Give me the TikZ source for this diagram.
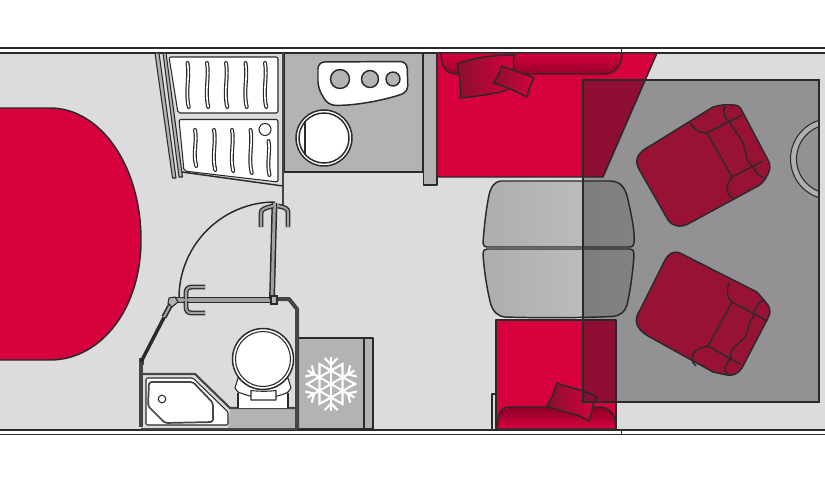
\documentclass[tikz,border=0pt]{standalone}
\definecolor{floorc}{HTML}{DCDCDC}
\definecolor{unit}{HTML}{B3B3B3}
\definecolor{redc}{HTML}{D6003D}
\definecolor{redd}{HTML}{8A1030}
\definecolor{chair}{HTML}{981236}
\definecolor{ink}{HTML}{2B2A2B}
\definecolor{wall}{HTML}{454547}
\definecolor{tint}{HTML}{232328}
\tikzset{
  ln/.style={draw=ink,line width=1.1pt,line join=round},
  thin ln/.style={draw=ink,line width=.8pt,line join=round},
  unitbox/.style={ln,fill=unit},
  whitebox/.style={ln,fill=white},
  wallbar/.style={draw=wall,line width=3pt,line join=round},
  pillow/.style={ln,left color=redd,right color=redc},
  chairbody/.style={ln,fill=chair},
  groove/.style={draw=ink,line width=3pt,line cap=round},
  groovein/.style={draw=white,line width=1.2pt,line cap=round},
  rodo/.style={draw=ink,line width=3.6pt,line join=round},
  rodi/.style={draw=unit!90!black,line width=1.6pt,line join=round},
  flake/.style={draw=white,line width=1.6pt,line cap=butt,line join=miter},
}
\newcommand{\wavy}[4]{% x, ytop, ybottom, amp
  \foreach \st in {groove,groovein}{
    \draw[\st] (#1,#2) .. controls ({#1+#4},{#2+(#3-#2)*.3}) and ({#1-#4},{#2+(#3-#2)*.65}) .. ({#1+#4*.5},#3);
  }}
\begin{document}
\begin{tikzpicture}[x=0.75pt,y=-0.75pt]
\useasboundingbox (0,0) rectangle (825,483);
\fill[white] (0,0) rectangle (825,483);
% floor
\fill[floorc] (0,53) rectangle (825,430);
% outer walls
\draw[ln] (0,48) -- (825,48);
\draw[ln] (0,53) -- (825,53);
\draw[ln] (0,430) -- (825,430);
\draw[ln] (0,434.5) -- (825,434.5);
\draw[thin ln] (621.5,48) -- (621.5,53);
\draw[thin ln] (621.5,430) -- (621.5,434.5);
% rear bed
\path[ln,fill=redc] (-3,108) -- (50,108) .. controls (100,108) and (141,165) .. (141,240)
  .. controls (141,310) and (100,360) .. (50,360) -- (-3,360) -- cycle;
% wardrobe
\draw[thin ln,fill=unit] (155,53) -- (159,53) -- (176,178) -- (172.5,178) -- cycle;
\draw[thin ln,fill=unit] (163,53) -- (166,53) -- (182.5,177) -- (179,177) -- cycle;
\path[thin ln,fill=white,rounded corners=1.5pt] (169,57) -- (278,57) -- (278,113) -- (178,113) -- cycle;
\path[thin ln,fill=white,rounded corners=1.5pt] (179,119.5) -- (278,119.5) -- (278,182) -- (184,171) -- cycle;
\draw[ln] (182,172) -- (283,186);
\foreach \x in {187.5,207,226,245.5,265}{\wavy{\x}{63}{107}{2.5}}
\foreach \x/\b in {195/166,214/170,232/171,250.5/173}{\wavy{\x}{130}{\b}{2.5}}
\wavy{268.5}{141}{175}{2}
\draw[thin ln,fill=white] (265,129.5) circle [radius=6];
% kitchen
\path[ln,fill=unit] (284,53) -- (423,53) -- (423,172) -- (284,172) -- cycle;
\path[ln,fill=white,rounded corners=5pt] (318,62) -- (407,61.5) -- (408,92) .. controls (385,100) and (355,106) .. (328,105) -- (318,88) -- cycle;
\draw[ln,fill=unit] (340,79) circle [radius=9.5];
\draw[ln,fill=unit] (370,79) circle [radius=8.5];
\draw[ln,fill=unit] (393,79) circle [radius=7];
\draw[ln,fill=white] (324,138) circle [radius=28];
\draw[ln] (324,138) circle [radius=25];
\draw[ln] (305,121) -- (305,155);
\draw[draw=wall,line width=2.2pt] (283,53) -- (283,205);
\path[ln,fill=unit] (423.5,53) rectangle (437,185);
% front seat (top)
\path[ln,fill=redc] (437,53) -- (657,53) -- (603,177) -- (437,177) -- cycle;
\path[ln,top color=redc,bottom color=redc!70!black] (441,53) .. controls (441,66) and (445,74) .. (458,74)
  -- (603,74) .. controls (615,74) and (622,66) .. (622,53) -- cycle;
\path[pillow] (457,64) .. controls (475,57) and (495,55) .. (515,55) .. controls (512,60) and (514,64) .. (514,67)
  -- (507,90) .. controls (495,94) and (478,96) .. (460,98) .. controls (462,85) and (459,75) .. (457,64) -- cycle;
\path[pillow] (502,66) .. controls (512,70) and (525,74) .. (534,78) .. controls (530,85) and (529,90) .. (527,97)
  .. controls (517,92) and (505,86) .. (493,83) .. controls (497,78) and (500,72) .. (502,66) -- cycle;
% front seat (bottom)
\draw[thin ln] (492,429) -- (492,394) -- (497,394);
\path[ln,fill=redc] (496,320) rectangle (616,429);
\path[ln,top color=redc!65!black,bottom color=redc] (497,429) .. controls (497,415) and (500,407) .. (510,407)
  -- (600,407) .. controls (612,407) and (616,418) .. (616,429) -- cycle;
\path[pillow] (557,383) .. controls (570,388) and (585,390) .. (597,397) .. controls (592,405) and (592,413) .. (589,421)
  .. controls (575,412) and (560,412) .. (547,406) .. controls (552,398) and (555,390) .. (557,383) -- cycle;
% table
\path[ln,left color=unit!97!black,right color=unit!80!white] (500,181) -- (610,181) .. controls (622,181) and (626,190) .. (628,200)
  .. controls (632,218) and (635,232) .. (634,243) .. controls (634,246) and (632,247) .. (630,247) -- (487,247)
  .. controls (485,247) and (483,246) .. (483,243) .. controls (484,228) and (486,210) .. (489,195) .. controls (491,186) and (495,182) .. (500,181) -- cycle;
\path[ln,left color=unit!97!black,right color=unit!80!white] (487,249) -- (630,249) .. controls (633,249) and (634,251) .. (634,254)
  .. controls (633,272) and (630,292) .. (627,305) .. controls (625,312) and (620,316) .. (612,316.5)
  .. controls (575,318) and (540,318) .. (505,317) .. controls (497,316) and (493,311) .. (491,305)
  .. controls (487,290) and (484,270) .. (483,254) .. controls (483,251) and (484,249) .. (487,249) -- cycle;
% washroom
\fill[unit] (230,408) -- (296,408) -- (296,429) -- (228,429) -- cycle;
\draw[draw=wall,line width=1.6pt,line join=round] (142,374) -- (195,374) -- (230,408) -- (296,408);
\path[thin ln,fill=white,rounded corners=1pt] (146,378) -- (193,378) -- (228,412) -- (228,425) -- (146,425) -- cycle;
\path[draw=wall,line width=1.3pt,line join=round,rounded corners=2pt] (149,382) -- (193,382) -- (213,403) -- (213,422) -- (165,423) -- (148,406) -- cycle;
\draw[thin ln] (162,399) circle [radius=3.8];
% toilet
\path[fill=white] (238,390) rectangle (288,408);
\draw[thin ln] (238,393) -- (238,408) (288,393) -- (288,408);
\path[thin ln,fill=white] (238,378) -- (235,388) -- (238,392) .. controls (243,394) and (246,395) .. (250,396) .. controls (262,399) and (276,398) .. (277,396) .. controls (281,395) and (285,394) .. (288,392) -- (291,388) -- (288,378) -- cycle;
\path[thin ln,fill=white] (251,390.5) -- (251,400) -- (276,400) -- (276,390.5) .. controls (268,391.5) and (260,391.5) .. (251,390.5) -- cycle;
\draw[ln,fill=white] (263,359) circle [radius=30.5];
\draw[thin ln] (263,359) circle [radius=27.5];
% fridge
\path[ln,fill=unit] (298,338) rectangle (373,429);
\draw[ln] (364,338) -- (364,429);
\begin{scope}[shift={(331,384)}]
\foreach \a in {30,90,150,210,270,330}{
  \draw[flake,rotate=\a] (0,0) -- (27,0);
  \draw[flake,rotate=\a] (26,-6.5) -- (19.5,0) -- (26,6.5);
}
\draw[flake] (0:24) -- (120:23) -- (240:23) -- cycle;
\draw[flake] (60:23) -- (180:24) -- (300:23) -- cycle;
\end{scope}
% walls
\draw[wallbar] (141,362) -- (141,427);
\fill[wall] (139,358) rectangle (143.5,365);
\draw[wallbar] (276,299) -- (289,299) -- (297,309) -- (297,429);
\draw[draw=wall,line width=1.4pt] (141,429) -- (297,429);
% shower door fittings
\draw[ln] (275,202) .. controls (222,202) and (179,245) .. (179,298);
\draw[rodo,line width=2.6pt] (172,302) -- (141,362);
\draw[rodo,line width=4pt] (164,317) -- (171,304);
\draw[rodi,line width=1.6pt] (164,317) -- (171,304);
\draw[rodo,line width=4.8pt] (176,300) -- (273,300);
\draw[rodi,line width=2.4pt] (176,300) -- (273,300);
\draw[rodo,line width=4.4pt] (274.5,203) -- (272,299);
\draw[rodi,line width=2.2pt] (274.5,203) -- (272,299);
\foreach \st in {rodo,rodi}{
  \draw[\st] (205,287) -- (192,287) .. controls (188,287) and (186,289) .. (186,293) -- (186,299);
  \draw[\st] (205,313) -- (192,313) .. controls (188,313) and (186,311) .. (186,307) -- (186,301);
  \draw[\st] (261,227) -- (261,213) .. controls (261,209) and (265,208) .. (273,206);
  \draw[\st] (288,227) -- (288,212) .. controls (288,209) and (285,207) .. (278,206);
}
\draw[ink,fill=unit,line width=.8pt] (169,298) -- (175,297) -- (178,302) -- (172,307) -- (168,303) -- cycle;
\draw[ink,fill=unit,line width=.8pt] (271,296) -- (277,296) -- (277,304) -- (271,304) -- cycle;
% tinted carpet
\fill[tint,opacity=.4] (583,80) rectangle (819,402);
% seat recess ring
\begin{scope}
  \clip (583,80) rectangle (819,402);
  \path[thin ln,fill=floorc!75!ink,even odd rule] (831,159) circle [radius=40.5] (831,159) circle [radius=34.5];
\end{scope}
\draw[draw=ink,line width=1pt] (583,80) rectangle (819,402);
% armchair top
\path[chairbody] (650,146) -- (713,107) .. controls (720,105) and (727,104) .. (733,105) .. controls (737,105) and (739,106) .. (741,109)
  -- (768,160) .. controls (771,165) and (770,170) .. (768,174) .. controls (765,180) and (762,184) .. (758,186)
  -- (688,224) .. controls (680,228) and (672,226) .. (668,220) -- (640,171) .. controls (633,160) and (638,152) .. (650,146) -- cycle;
\draw[ln] (690,122) .. controls (692,128) and (698,133) .. (707,133) -- (742,115);
\draw[ln] (707,133) -- (732,177) -- (763,161);
\draw[ln] (725,106) .. controls (722,114) and (725,119) .. (730,122) .. controls (733,131) and (742,136) .. (745,150) .. controls (747,160) and (748,164) .. (753,166) .. controls (755,172) and (758,176) .. (763,177);
\draw[ln] (732,177) .. controls (727,183) and (723,194) .. (735,199);
% armchair bottom
\path[chairbody] (682,254) -- (757,292) -- (768,305) .. controls (771,310) and (770,314) .. (768,318) -- (742,368) .. controls (738,374) and (733,376) .. (727,375)
  -- (713,372) -- (648,336) .. controls (636,329) and (633,320) .. (640,310) -- (664,262) .. controls (669,252) and (675,250) .. (682,254) -- cycle;
\draw[ln] (729,283) .. controls (726,290) and (727,298) .. (732,302) -- (767,321);
\draw[ln] (732,302) -- (708,346) -- (740,364);
\draw[ln] (708,346) .. controls (698,348) and (692,351) .. (692,358) .. controls (692,362) and (694,364) .. (696,366);
\draw[ln] (765,300) .. controls (758,302) and (753,308) .. (754,316) .. controls (748,322) and (749,330) .. (745,337) .. controls (738,345) and (729,349) .. (731,358) .. controls (725,364) and (722,372) .. (729,375);
\end{tikzpicture}
\end{document}
